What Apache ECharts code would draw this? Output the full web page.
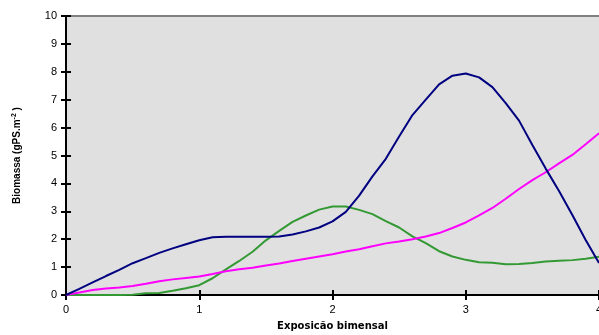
<!DOCTYPE html>
<html>
<head>
<meta charset="utf-8">
<script src="https://cdn.jsdelivr.net/npm/echarts@6/dist/echarts.min.js"></script>
<style>html,body{margin:0;padding:0;background:#fff}#c{width:599px;height:335px}</style>
</head>
<body>
<div id="c"></div>
<script>
var xValues = [0,0.1,0.2,0.3,0.4,0.5,0.6,0.7,0.8,0.9,1,1.1,1.2,1.3,1.4,1.5,1.6,1.7,1.8,1.9,2,2.1,2.2,2.3,2.4,2.5,2.6,2.7,2.8,2.9,3,3.1,3.2,3.3,3.4,3.5,3.6,3.7,3.8,3.9,4];
var blueValues = [0,0.22,0.45,0.68,0.9,1.14,1.32,1.51,1.67,1.82,1.96,2.07,2.09,2.09,2.09,2.09,2.10,2.17,2.28,2.42,2.64,2.98,3.56,4.25,4.88,5.68,6.45,7.0,7.55,7.86,7.94,7.80,7.45,6.88,6.25,5.38,4.53,3.73,2.87,1.97,1.15];
var greenValues = [0,0,0,0,0,0.01,0.06,0.07,0.15,0.24,0.35,0.6,0.92,1.22,1.55,1.96,2.3,2.62,2.85,3.06,3.17,3.17,3.05,2.9,2.65,2.42,2.1,1.86,1.57,1.38,1.26,1.17,1.16,1.1,1.11,1.15,1.2,1.23,1.25,1.3,1.37];
var magentaValues = [0,0.09,0.18,0.23,0.27,0.32,0.40,0.49,0.56,0.61,0.66,0.75,0.85,0.92,0.98,1.06,1.13,1.22,1.30,1.38,1.46,1.56,1.64,1.75,1.85,1.92,2.0,2.10,2.22,2.40,2.60,2.85,3.12,3.45,3.80,4.12,4.40,4.72,5.02,5.40,5.80];
var xTicks = {min:0, max:4, interval:1};
var yTicks = {min:0, max:10, interval:1};
var xTitle = 'Exposicão bimensal';

function pairs(v){ return xValues.map(function(x,i){ return [x, v[i]]; }); }

var font = 'Liberation Sans, Arial, sans-serif';
var chart = echarts.init(document.getElementById('c'), null, {renderer:'canvas'});
var gridPos = {left:66, right:0, top:16, bottom:40, containLabel:false, outerBoundsMode:'none'};
chart.setOption({
  animation:false,
  grid:[
    Object.assign({show:true, backgroundColor:'#e0e0e0', borderWidth:0}, gridPos),
    Object.assign({show:false}, gridPos)
  ],
  xAxis:[
    {gridIndex:0, type:'value', position:'bottom', min:xTicks.min, max:xTicks.max, interval:xTicks.interval,
     axisLine:{lineStyle:{color:'#000', width:2}},
     axisTick:{length:5, lineStyle:{color:'#000', width:2}},
     axisLabel:{color:'#000', fontFamily:font, fontSize:11, margin:9},
     splitLine:{show:false},
     name:xTitle, nameLocation:'middle', nameGap:26,
     nameTextStyle:{color:'#000', fontFamily:'DejaVu Sans, sans-serif', fontWeight:'bold', fontSize:10}},
    {gridIndex:0, type:'value', position:'top', min:xTicks.min, max:xTicks.max, interval:xTicks.interval,
     axisLine:{lineStyle:{color:'#808080', width:2}}, axisTick:{show:false}, axisLabel:{show:false}, splitLine:{show:false}},
    {gridIndex:1, type:'value', position:'bottom', min:xTicks.min, max:xTicks.max, interval:xTicks.interval,
     axisLine:{show:false}, axisTick:{inside:true, length:5, lineStyle:{color:'#000', width:2}}, axisLabel:{show:false}, splitLine:{show:false}}
  ],
  yAxis:[
    {gridIndex:0, type:'value', min:yTicks.min, max:yTicks.max, interval:yTicks.interval,
     axisLine:{show:true, lineStyle:{color:'#000', width:2}},
     axisTick:{show:true, length:5, lineStyle:{color:'#000', width:2}},
     axisLabel:{color:'#000', fontFamily:font, fontSize:11, margin:9},
     splitLine:{show:false},
     name:'Biomassa (gPS.m{sup|-2} )', nameLocation:'middle', nameGap:42, nameRotate:90,
     nameTextStyle:{color:'#000', fontFamily:font, fontWeight:'bold', fontSize:10,
       rich:{sup:{fontFamily:font, fontWeight:'bold', fontSize:7, verticalAlign:'top', padding:[0,0,6,0]}}}},
    {gridIndex:1, type:'value', min:yTicks.min, max:yTicks.max, interval:yTicks.interval,
     axisLine:{show:false}, axisTick:{show:true, inside:true, length:5, lineStyle:{color:'#000', width:2}}, axisLabel:{show:false}, splitLine:{show:false}}
  ],
  series:[
    {type:'line', xAxisIndex:0, yAxisIndex:0, data:pairs(greenValues), showSymbol:false, lineStyle:{color:'#339933', width:2}, z:3},
    {type:'line', xAxisIndex:0, yAxisIndex:0, data:pairs(magentaValues), showSymbol:false, lineStyle:{color:'#ff00ff', width:2}, z:4},
    {type:'line', xAxisIndex:0, yAxisIndex:0, data:pairs(blueValues), showSymbol:false, lineStyle:{color:'#000080', width:2}, z:5}
  ]
});
</script>
</body>
</html>
